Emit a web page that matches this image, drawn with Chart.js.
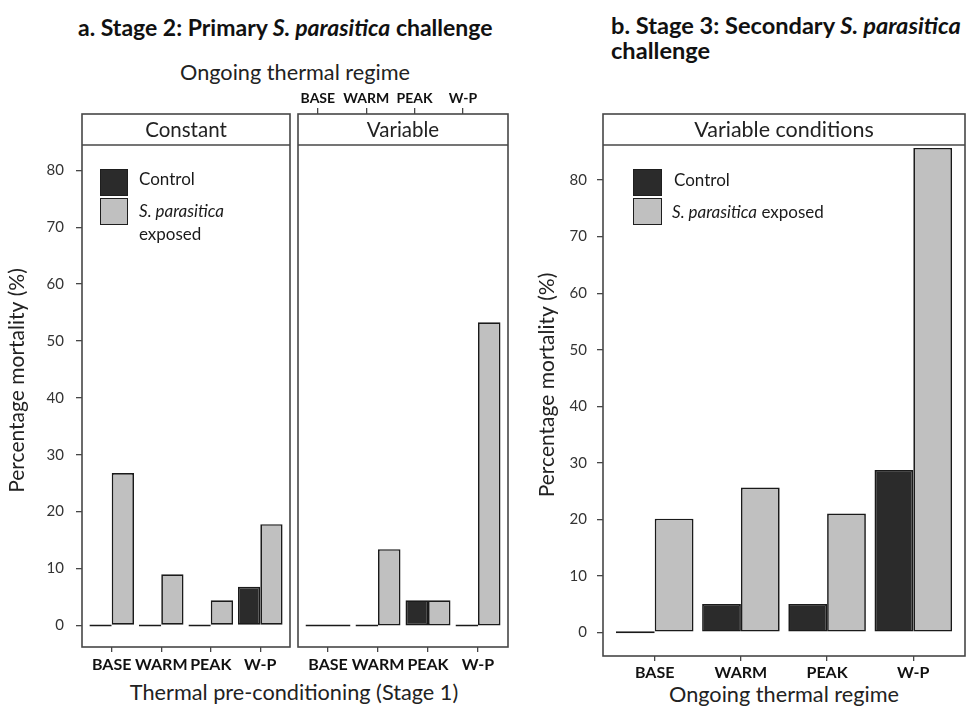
<!DOCTYPE html>
<html>
<head>
<meta charset="utf-8">
<script src="https://cdn.jsdelivr.net/npm/chart.js@4.4.1/dist/chart.umd.min.js"></script>
<style>
  html, body { margin:0; padding:0; background:#fff; }
  body { width:966px; height:706px; overflow:hidden; position:relative; font-family: Lato, "Open Sans", sans-serif; color:#1a1a1a; }
  canvas { position:absolute; }
  .t { position:absolute; white-space:nowrap; }
  .title { font-weight:bold; font-size:23px; color:#111; }
  .lab { font-size:21.7px; color:#222; }
  .box { position:absolute; border:1.5px solid #1e1e1e; box-sizing:border-box; }
  .leg { font-size:17px; color:#1a1a1a; }
</style>
</head>
<body>
<div class="t title" style="left:78px; top:13px;">a. Stage 2: Primary <i>S. parasitica</i> challenge</div>
<div class="t title" style="left:611px; top:13px; line-height:25px; font-size:23.6px;">b. Stage 3: Secondary <i>S. parasitica</i><br>challenge</div>
<div class="t lab" style="left:295px; top:59px; transform:translateX(-50%);">Ongoing thermal regime</div>
<div class="t lab" style="left:294px; top:679px; transform:translateX(-50%);">Thermal pre-conditioning (Stage 1)</div>
<div class="t lab" style="left:784px; top:681px; transform:translateX(-50%);">Ongoing thermal regime</div>

<canvas id="c1" width="296" height="600" style="left:0px; top:80px;"></canvas>
<canvas id="c2" width="220" height="600" style="left:296px; top:80px;"></canvas>
<canvas id="c3" width="436" height="606" style="left:530px; top:80px;"></canvas>

<div class="box" style="left:100px; top:169px; width:28px; height:27px; background:#2b2b2b;"></div>
<div class="box" style="left:100px; top:198px; width:28px; height:27px; background:#c0c0c0;"></div>
<div class="t leg" style="left:139px; top:168px;">Control</div>
<div class="t leg" style="left:139px; top:199px; line-height:23px;"><i>S. parasitica</i><br>exposed</div>

<div class="box" style="left:633px; top:169px; width:29px; height:27px; background:#2b2b2b;"></div>
<div class="box" style="left:633px; top:198px; width:29px; height:27px; background:#c0c0c0;"></div>
<div class="t leg" style="left:674px; top:169px;">Control</div>
<div class="t leg" style="left:672px; top:201px;"><i>S. parasitica</i> exposed</div>

<script>
const categories = ['BASE', 'WARM', 'PEAK', 'W-P'];
const yTicks = [0, 10, 20, 30, 40, 50, 60, 70, 80];
// Stage 2, constant regime
const constControl = [0, 0, 0, 6.8];
const constExposed = [26.8, 9.0, 4.4, 17.8];
// Stage 2, variable regime
const varControl = [0, 0, 4.4, 0];
const varExposed = [0, 13.4, 4.4, 53.3];
// Stage 3, variable conditions
const s3Control = [0, 5, 5, 28.7];
const s3Exposed = [20.1, 25.6, 21.0, 85.7];

const CONTROL_COL = '#2b2b2b', EXPOSED_COL = '#c0c0c0', EDGE = '#1a1a1a', FRAME = '#474747';
const FONT = 'Lato, "Open Sans", sans-serif';

const framePlugin = {
  id: 'panelFrame',
  afterDatasetsDraw(chart, args, o) {
    const { ctx, chartArea: a } = chart;
    ctx.save();
    ctx.strokeStyle = FRAME;
    ctx.lineWidth = 1.6;
    ctx.fillStyle = '#fff';
    ctx.fillRect(a.left, a.top, a.right - a.left, o.stripHeight);
    ctx.strokeRect(a.left, a.top, a.right - a.left, a.bottom - a.top);
    ctx.beginPath();
    ctx.moveTo(a.left, a.top + o.stripHeight);
    ctx.lineTo(a.right, a.top + o.stripHeight);
    ctx.stroke();
    ctx.fillStyle = '#222';
    ctx.font = o.fontSize + 'px ' + FONT;
    ctx.textAlign = 'center';
    ctx.textBaseline = 'middle';
    ctx.fillText(o.text, (a.left + a.right) / 2, a.top + o.stripHeight / 2 + 1);
    ctx.restore();
  }
};

function toXY(vals) { return vals.map((v, i) => ({ x: i, y: v })); }

function datasets(ctrl, exp) {
  const common = { borderColor: EDGE, borderWidth: 1.7, borderSkipped: false, minBarLength: 2,
                   categoryPercentage: 0.9, barPercentage: 1.0, xAxisID: 'x', yAxisID: 'y' };
  return [
    Object.assign({ label: 'Control', data: toXY(ctrl), backgroundColor: CONTROL_COL }, common),
    Object.assign({ label: 'S. parasitica exposed', data: toXY(exp), backgroundColor: EXPOSED_COL }, common)
  ];
}

function xScale(height, pad) {
  return {
    type: 'linear', position: 'bottom', min: -0.6, max: 3.6, offset: false,
    afterBuildTicks: s => { s.ticks = categories.map((c, i) => ({ value: i })); },
    afterFit: s => { s.height = height; },
    ticks: { callback: v => categories[v], color: '#111', font: { family: FONT, size: 16, weight: 'bold' }, padding: pad, maxRotation: 0, autoSkip: false },
    grid: { display: true, offset: false, drawOnChartArea: false, drawTicks: true, tickLength: 5, color: FRAME, lineWidth: 1.3 },
    border: { display: false }
  };
}

function yScale(min, max, width, show, pad) {
  return {
    type: 'linear', min: min, max: max, display: show,
    afterBuildTicks: s => { s.ticks = yTicks.map(v => ({ value: v })); },
    afterFit: s => { if (show) s.width = width; },
    ticks: { color: '#333', font: { family: FONT, size: 15 }, padding: pad },
    grid: { display: true, drawOnChartArea: false, drawTicks: true, tickLength: 6, color: FRAME, lineWidth: 1.3 },
    border: { display: false },
    title: { display: show, text: 'Percentage mortality (%)', color: '#222', font: { family: FONT, size: 21 }, padding: { top: 5, bottom: 0 } }
  };
}

const baseOpts = { responsive: false, animation: false, devicePixelRatio: 1,
  plugins: { legend: { display: false }, tooltip: { enabled: false } } };

new Chart(document.getElementById('c1'), {
  type: 'bar',
  data: { datasets: datasets(constControl, constExposed) },
  options: Object.assign({}, baseOpts, {
    layout: { padding: { top: 34, right: 6, left: 0, bottom: 0 } },
    scales: { x: xScale(33, 3), y: yScale(-3.8, 89.9, 82, true, 12) },
    plugins: Object.assign({}, baseOpts.plugins, { panelFrame: { text: 'Constant', stripHeight: 31, fontSize: 20.5 } })
  }),
  plugins: [framePlugin]
});

const topX = {
  type: 'linear', position: 'top', min: -0.41, max: 3.93, offset: false,
  afterBuildTicks: s => { s.ticks = categories.map((c, i) => ({ value: i })); },
  afterFit: s => { s.height = 34; },
  ticks: { callback: v => categories[v], color: '#111', font: { family: FONT, size: 14, weight: 'bold' }, padding: 1, maxRotation: 0, autoSkip: false },
  grid: { display: true, offset: false, drawOnChartArea: false, drawTicks: true, tickLength: 6, color: FRAME, lineWidth: 1.3 },
  border: { display: false }
};

new Chart(document.getElementById('c2'), {
  type: 'bar',
  data: { datasets: datasets(varControl, varExposed) },
  options: Object.assign({}, baseOpts, {
    layout: { padding: { top: 0, right: 8, left: 2, bottom: 0 } },
    scales: { x: xScale(33, 3), xTop: topX, y: yScale(-3.8, 89.9, 0, false, 0) },
    plugins: Object.assign({}, baseOpts.plugins, { panelFrame: { text: 'Variable', stripHeight: 31, fontSize: 20.5 } })
  }),
  plugins: [framePlugin]
});

new Chart(document.getElementById('c3'), {
  type: 'bar',
  data: { datasets: datasets(s3Control, s3Exposed) },
  options: Object.assign({}, baseOpts, {
    layout: { padding: { top: 34, right: 1, left: 0, bottom: 0 } },
    scales: { x: xScale(30, 2), y: yScale(-4.2, 91.7, 73, true, 10) },
    plugins: Object.assign({}, baseOpts.plugins, { panelFrame: { text: 'Variable conditions', stripHeight: 31, fontSize: 21.5 } })
  }),
  plugins: [framePlugin]
});
</script>
</body>
</html>
